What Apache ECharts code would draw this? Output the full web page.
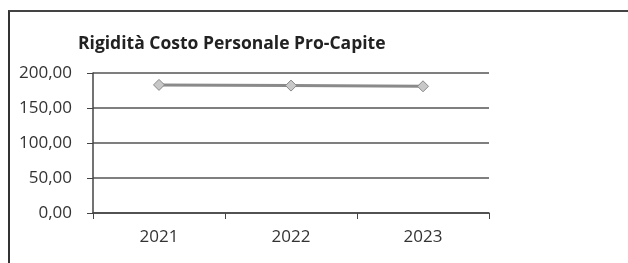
<html lang="it">
<head>
  <meta charset="UTF-8">
  <title>Rigidità Costo Personale Pro-Capite</title>
  <style>
    html, body { margin: 0; background: #fff; overflow: hidden; width: 628px; height: 263px; }
    #frame {
      position: absolute; left: 8px; top: 10px; width: 700px; height: 300px;
      border-left: 2px solid #333; border-top: 2px solid #444;
    }
    #chart { position: absolute; left: 0; top: 0; width: 628px; height: 263px; }
  </style>
</head>
<body>
  <div id="frame"></div>
  <div id="chart"></div>
  <script src="https://cdn.jsdelivr.net/npm/echarts@6/dist/echarts.min.js"></script>
  <script>
    const years = ['2021', '2022', '2023']
    const costoProCapite = [183, 182, 181]
    const yTicks = { min: 0, max: 200, interval: 50 }

    const chart = echarts.init(document.querySelector('#chart'))
    chart.setOption({
      animation: false,
      title: {
        text: 'Rigidità Costo Personale Pro-Capite',
        left: 73, top: 30,
        textStyle: { fontFamily: 'Open Sans', fontSize: 17.5, fontWeight: 'bold', color: '#222' }
      },
      grid: { left: 93, right: 139, top: 73, bottom: 50 },
      xAxis: {
        type: 'category',
        data: years,
        boundaryGap: true,
        axisLine: { lineStyle: { color: '#444', width: 1.5 } },
        axisTick: { show: true, length: 6, lineStyle: { color: '#444' } },
        axisLabel: { margin: 16, fontFamily: 'Open Sans', fontSize: 17, color: '#333' }
      },
      yAxis: {
        type: 'value',
        min: yTicks.min, max: yTicks.max, interval: yTicks.interval,
        axisLine: { show: true, lineStyle: { color: '#444', width: 1.5 } },
        axisTick: { show: true, inside: false, length: 6, lineStyle: { color: '#444' } },
        splitLine: { lineStyle: { color: '#555', width: 1.5 } },
        axisLabel: {
          margin: 21, fontFamily: 'Open Sans', fontSize: 17, color: '#333',
          formatter: v => v.toFixed(2).replace('.', ',')
        }
      },
      series: [{
        type: 'line',
        data: costoProCapite,
        symbol: 'diamond',
        symbolSize: 11,
        lineStyle: { color: '#8a8a8a', width: 3 },
        itemStyle: { color: '#c8c8c8', borderColor: '#888', borderWidth: 1 }
      }]
    })
  </script>
</body>
</html>
